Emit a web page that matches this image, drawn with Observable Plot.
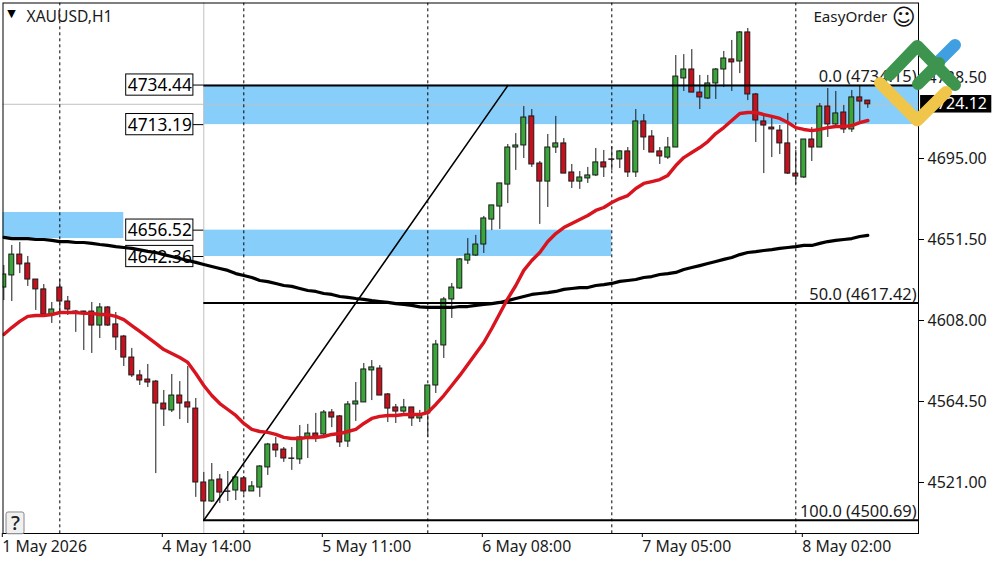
<!DOCTYPE html>
<html>
<head>
<meta charset="utf-8">
<script src="https://cdn.jsdelivr.net/npm/d3@7"></script>
<script src="https://cdn.jsdelivr.net/npm/@observablehq/plot@0.6"></script>
<style>
html,body{margin:0;padding:0;background:#fff}
#chart{position:relative;width:1000px;height:562px;overflow:hidden}
#chart svg{position:absolute;left:0;top:0}
</style>
</head>
<body>
<div id="chart"></div>
<script>
const opens = [4625.7,4632.2,4643.4,4638.6,4630,4624.7,4611.2,4625.7,4618.2,4612.8,
4612.8,4612.8,4605.3,4615,4605.9,4599.4,4588.1,4578.5,4576.3,4575.2,
4563.4,4559.7,4567.7,4564,4560.7,4521,4510.8,4522.6,4516.2,4516.7,
4523.2,4516.2,4518.3,4529.1,4541.4,4538.7,4533.9,4533.4,4544.6,4547.3,
4546.8,4558.6,4556.5,4543,4562.9,4564,4581.2,4582.2,4568.3,4561.3,
4559.1,4561.3,4555.4,4558.1,4573.1,4594.6,4619.3,4625.2,4640.2,4642.9,
4648.8,4662.2,4669.2,4681,4700.9,4702,4717.6,4692.3,4682.6,4700.9,
4703.1,4687.5,4682.6,4684.3,4685.9,4692.9,4694.5,4694.5,4698.8,4687.5,
4714.9,4706.8,4698.8,4695.5,4700.9,4738,4742.8,4730.4,4727.2,4735.3,
4742.8,4748.2,4747.1,4762.7,4729.4,4714.9,4711.6,4710,4703.1,4686.9,
4684.8,4705.2,4700.9,4722.9,4713.3,4719.7,4710.6,4727.8,4726.1];
const highs = [4637.5,4648.3,4649.9,4642.4,4630,4627.3,4617.7,4630,4620.9,4613.4,
4613,4617.7,4617.1,4615.5,4612.3,4600,4593,4581.2,4584.4,4575.8,
4570.4,4579,4575.2,4583.3,4566.1,4526.4,4531.2,4525.3,4526.9,4524.8,
4524.2,4521.5,4530.1,4542,4545.2,4539.8,4539.8,4551.6,4552.2,4558.1,
4559.7,4560.2,4557,4564.5,4574.7,4584.9,4586.5,4583.8,4568.8,4562.9,
4565.6,4561.3,4559.7,4573.1,4597.3,4620.4,4627.9,4641.3,4652,4653.7,
4663.9,4669.8,4681.6,4702.5,4708.4,4722.9,4721.3,4693.4,4707.9,4717.6,
4705.7,4691.8,4688,4690.2,4700.4,4699.3,4701.4,4699.3,4700.9,4721.3,
4718.6,4710,4700.9,4706.3,4750.3,4750.8,4753.5,4739.6,4739.6,4743.3,
4752.5,4758.4,4763.2,4764.8,4729.9,4718.1,4717,4712.7,4719.2,4699.3,
4705.2,4711.6,4724.5,4732.6,4731,4723.5,4731.5,4734.2,4726.1];
const lows = [4618.7,4618.2,4633.2,4626.3,4613.4,4610.7,4606.4,4612.3,4610.7,4601.6,
4591.9,4590.3,4598.3,4604.8,4591.9,4583.3,4577.4,4573.1,4572,4525.8,
4551.1,4558.6,4554.8,4552.7,4513,4500.6,4510.3,4509.7,4510.8,4511.3,
4514.6,4516.2,4513,4524.8,4534.4,4531.8,4527.5,4530.7,4533.9,4542.5,
4544.6,4550.5,4539.8,4539.8,4553.8,4564,4565,4567.7,4553.2,4552.7,
4558.1,4551.1,4553.2,4545.2,4568.8,4587.6,4609.1,4624.7,4638.1,4642.4,
4644,4656.3,4656.9,4670.8,4688.6,4695,4690.2,4659.6,4668.7,4697.7,
4686.9,4678.9,4678.4,4681.6,4685.3,4684.8,4688.6,4689.6,4684.8,4684.8,
4699.3,4698.2,4691.8,4694.5,4700.9,4731,4730.4,4721.3,4726.7,4726.7,
4733.1,4731,4740.6,4726.1,4703.6,4686.9,4695.5,4697.1,4686.4,4681,
4684.3,4693.4,4700.9,4706.3,4712.2,4708.4,4709,4714.3,4721.9];
const closes = [4632.7,4643.4,4638.1,4630,4624.7,4611.2,4613.9,4618.2,4613.9,4612.6,
4612.6,4605.3,4615,4605.3,4598.9,4588.1,4578.5,4575.8,4574.7,4563.4,
4560.2,4567.7,4563.4,4561.3,4521,4510.8,4522.1,4515.6,4516,4523.7,
4516.2,4518.9,4529.6,4541.4,4538.2,4533.9,4533.7,4545.2,4547.3,4544.6,
4558.6,4555.9,4542.5,4562.9,4564.5,4581.7,4582.8,4567.7,4560.7,4559.1,
4561.3,4555.4,4557,4573.1,4595.1,4619.3,4625.7,4640.8,4643.4,4648.8,
4662.8,4669.8,4681.6,4700.9,4702,4717,4691.8,4682.6,4700.9,4703.1,
4686.9,4682.6,4684.8,4685.9,4692.9,4690.2,4694.3,4698.8,4687.5,4714.9,
4706.3,4698.2,4696.1,4700.9,4739,4742.8,4730.4,4727.8,4735.3,4742.8,
4748.7,4746.6,4762.7,4729.4,4715.4,4712.7,4710.6,4703.1,4686.9,4685.3,
4705.2,4700.9,4722.9,4713.3,4719.2,4710.6,4727.8,4725.6,4724.1];
const redAverage = [4600.5,4604.2,4607.5,4610.2,4610.7,4610.7,4611.2,4612.3,4612.3,4612.3,
4611.8,4611.8,4611.2,4611.2,4610.2,4608.5,4605.3,4602.1,4598.9,4595.7,
4592.4,4590.3,4588.1,4585.5,4579.5,4573.1,4567.7,4563.4,4560.2,4557,
4552.7,4549.5,4548.4,4547.9,4546.8,4545.2,4544.6,4544.6,4545.2,4545.2,
4545.7,4546.8,4547.3,4548.4,4549.5,4552.7,4555.4,4556.5,4557,4557,
4557.5,4557.5,4557.5,4558.6,4562.9,4567.7,4573.1,4578.5,4584.4,4590.3,
4596.2,4603.7,4611.8,4619.8,4626.8,4634.9,4640.2,4644.5,4650.4,4654.7,
4657.9,4660.1,4662.2,4664.4,4667.1,4668.7,4671.4,4673.5,4675.1,4678.9,
4681.6,4682.6,4683.7,4685.9,4691.2,4695.5,4698.2,4700.9,4704.1,4708.4,
4711.6,4715.4,4719.2,4719.7,4719.7,4718.6,4717.6,4716.5,4714.3,4711.6,
4710.6,4710,4710.6,4711.6,4712.2,4712.2,4712.7,4714.3,4715.4];
const blackAverage = [4652.6,4652,4652,4652,4651.5,4651.5,4651,4650.4,4650.4,4649.9,
4649.9,4649.4,4648.8,4648.3,4647.7,4647.2,4646.7,4645.9,4645.1,4644.5,
4643.4,4642.4,4641.3,4640.2,4639.2,4638.1,4637,4635.9,4634.9,4633.2,
4632.2,4631.1,4629.5,4628.9,4627.9,4626.8,4626.3,4625.2,4624.1,4623.6,
4622.5,4622,4620.9,4620.4,4619.8,4619.3,4618.7,4618.2,4617.7,4617.1,
4616.6,4616.1,4615.3,4615,4615,4615,4615,4615.5,4615.5,4616.1,
4616.6,4617.1,4617.7,4618.7,4619.8,4620.9,4622,4622.5,4623,4623.6,
4624.7,4625.2,4625.7,4625.7,4626.8,4627.3,4627.9,4629,4629.5,4630,
4631.1,4631.6,4632.7,4633.2,4633.8,4635.4,4636.5,4637.5,4638.6,4639.7,
4640.8,4641.8,4643.4,4644.5,4645,4645.6,4646.1,4646.7,4647.2,4647.7,
4648.3,4648.3,4649.4,4650.4,4651,4651.5,4652,4653.1,4653.7];

const priceTicks = [4738.5,4695,4651.5,4608,4564.5,4521];
const timeTicks = [0,20,40,60,80,100];
const timeLabels = ["1 May 2026","4 May 14:00","5 May 11:00","6 May 08:00","7 May 05:00","8 May 02:00"];
const separators = [7,30,53,76,99];
const zones = [
  {from:-1, to:15, top:4666, bottom:4652},
  {from:25, to:76, top:4656.52, bottom:4642.36},
  {from:25, to:115, top:4734.44, bottom:4713.19}
];
const priceBoxes = [4734.44,4713.19,4656.52,4642.36];
const fibLevels = [
  {level:4734.15, label:"0.0 (4734.15)"},
  {level:4617.42, label:"50.0 (4617.42)"},
  {level:4500.69, label:"100.0 (4500.69)"}
];
const fibStart = 25, fibEnd = 63;
const lastPrice = 4724.12;

const candles = opens.map((o,i)=>({i,o,h:highs[i],l:lows[i],c:closes[i]}));
const red = redAverage.map((v,i)=>({i,v}));
const blk = blackAverage.map((v,i)=>({i,v}));
const ink = "#1a1a1a";
const font = "'Noto Sans', sans-serif";

const plot = Plot.plot({
  width:1000, height:562,
  marginLeft:2.5, marginTop:2.5, marginRight:82, marginBottom:29,
  style:{fontFamily:font, fontSize:"16px", color:ink, background:"#fff", overflow:"visible"},
  x:{type:"linear", domain:[0,108], range:[3.3,867.3], axis:null},
  y:{type:"linear", domain:[4521,4695], range:[482,158], axis:null},
  marks:[
    Plot.rect(zones,{x1:"from",x2:"to",y1:"bottom",y2:"top",fill:"#87cefa",clip:true}),
    Plot.ruleY([lastPrice],{x1:-1,x2:115,stroke:"#c0c0c0",strokeWidth:1,clip:true}),
    Plot.ruleX([fibStart],{stroke:"#c0c0c0",strokeWidth:1,y1:4400,y2:4800,clip:true}),
    Plot.ruleX(separators,{y1:4400,y2:4800,stroke:"#000",strokeWidth:1,strokeDasharray:"3,3",clip:true}),
    Plot.rect(priceBoxes,{x1:15.3,x2:23.7,y1:d=>d+5.7,y2:d=>d-5.7,fill:"#fff",stroke:"#000",strokeWidth:1}),
    Plot.ruleY(priceBoxes,{x1:23.7,x2:25,stroke:"#000",strokeWidth:1}),
    Plot.text(priceBoxes,{text:d=>d.toFixed(2),x:23.5,y:d=>d,dy:0.6,textAnchor:"end",fontSize:17.3,fill:"#000"}),
    Plot.ruleX(candles,{x:"i",y1:"l",y2:"h",stroke:ink,strokeWidth:1,clip:true}),
    Plot.rect(candles,{x1:d=>d.i-0.31,x2:d=>d.i+0.31,y1:"o",y2:"c",
      fill:d=>d.c>=d.o?"#3aa63a":"#c8101e",stroke:ink,strokeWidth:1,clip:true}),
    Plot.ruleY(fibLevels,{y:"level",x1:fibStart,x2:115,stroke:"#000",strokeWidth:2,clip:true}),
    Plot.line([{i:fibStart,v:fibLevels[2].level},{i:fibEnd,v:fibLevels[0].level}],
      {x:"i",y:"v",stroke:"#000",strokeWidth:1.6}),
    Plot.line(blk,{x:"i",y:"v",stroke:"#000",strokeWidth:3.2,strokeLinejoin:"round",clip:true}),
    Plot.line(red,{x:"i",y:"v",stroke:"#d8141f",strokeWidth:3.4,strokeLinejoin:"round",clip:true}),
    Plot.text(fibLevels,{text:"label",x:114.1,y:"level",dy:-8.5,textAnchor:"end",fontSize:16.4,fill:ink}),
    Plot.frame({stroke:"#000",strokeWidth:1}),
    Plot.axisX({anchor:"bottom",ticks:timeTicks,tickFormat:(d,i)=>timeLabels[timeTicks.indexOf(d)],
      tickSize:4,tickPadding:3,dx:-1.5,textAnchor:"start",label:null,fontSize:15.8,fill:ink,stroke:"#000"}),
    Plot.axisY({anchor:"right",ticks:priceTicks,tickFormat:d=>d.toFixed(2),
      tickSize:5,tickPadding:4,label:null,fontSize:16,fill:ink,stroke:"#000"}),
    Plot.rect([lastPrice],{x1:114.6,x2:123.5,y1:d=>d+4.7,y2:d=>d-4.7,fill:"#000"}),
    Plot.text([lastPrice],{text:d=>d.toFixed(2),x:115.5,y:d=>d,textAnchor:"start",fontSize:16,fill:"#fff"}),
    Plot.text(["XAUUSD,H1"],{text:d=>d,x:2.84,y:4771.3,dy:0.6,textAnchor:"start",fontSize:15.6,fill:ink}),
    Plot.text(["\u25BC"],{text:d=>d,x:0.96,y:4772.9,fontSize:11,fontFamily:"DejaVu Sans",fill:"#000"}),
    Plot.text(["EasyOrder"],{text:d=>d,x:101.2,y:4771.3,dy:0.6,textAnchor:"start",fontSize:15.2,fill:ink}),
    Plot.text(["\u263A"],{text:d=>d,x:112.5,y:4770.7,fontSize:23,fontFamily:"DejaVu Sans",fill:"#111"}),
    Plot.rect(["help"],{x1:0.34,x2:2.59,y1:4493.2,y2:4504.9,fill:"#f0f0f0",stroke:"#888",rx:2}),
    Plot.text(["?"],{text:d=>d,x:1.47,y:4499,fontSize:20,fontWeight:500,fill:"#222"})
  ]
});
const host = document.getElementById("chart");
host.appendChild(plot);

// Broker watermark laid over the chart
const logo = d3.create("svg").attr("width",1000).attr("height",562).style("pointer-events","none");
const strokes = [
  {d:"M940,60 L955,45", c:"#3f9fe0"},
  {d:"M889.5,75 L917.3,46 L955,85", c:"#3d944e"},
  {d:"M918,84 L939,63", c:"#3d944e"},
  {d:"M880,83 L917.3,120.5 L946,92", c:"#f0c64a"}
];
logo.selectAll("path").data(strokes).join("path")
  .attr("d",d=>d.d).attr("stroke",d=>d.c).attr("stroke-width",12)
  .attr("fill","none").attr("stroke-linecap","round").attr("stroke-linejoin","round");
host.appendChild(logo.node());
</script>
</body>
</html>
